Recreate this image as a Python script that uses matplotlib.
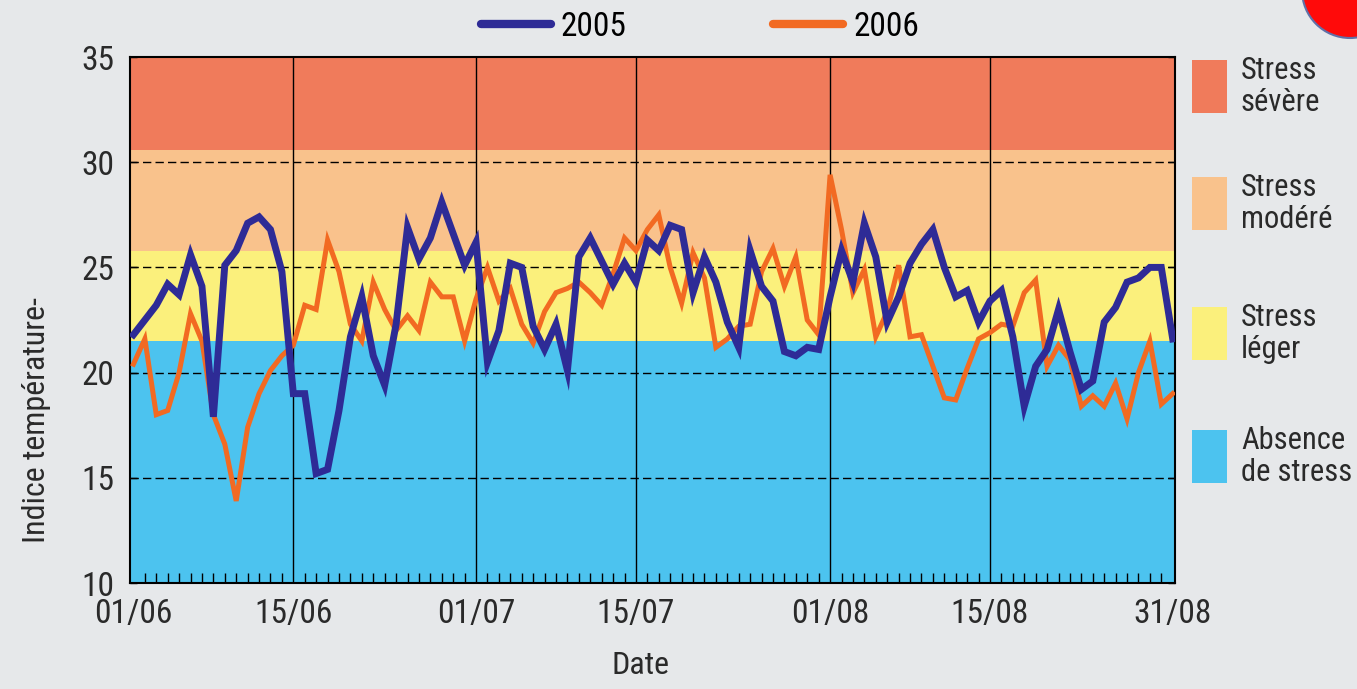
import numpy as np
import matplotlib
matplotlib.use("Agg")
import matplotlib.pyplot as plt
from matplotlib.patches import Rectangle, Ellipse

# Daily heat index values, 01/06 to 31/08
t_2005 = [21.8, 22.5, 23.2, 24.2, 23.7, 25.6, 24.1, 17.9, 25.1, 25.8,
          27.1, 27.4, 26.8, 24.8, 19.0, 19.0, 15.2, 15.4, 18.2, 21.7,
          23.6, 20.8, 19.4, 22.3, 26.9, 25.4, 26.4, 28.1, 26.6, 25.1,
          26.2, 20.5, 22.0, 25.2, 25.0, 22.2, 21.1, 22.3, 20.1, 25.5,
          26.4, 25.3, 24.2, 25.2, 24.3, 26.3, 25.8, 27.0, 26.8, 23.8,
          25.5, 24.3, 22.4, 21.2, 25.8, 24.1, 23.4, 21.0, 20.8, 21.2,
          21.1, 23.6, 25.8, 24.3, 27.1, 25.5, 22.4, 23.6, 25.2, 26.1,
          26.8, 25.0, 23.6, 23.9, 22.4, 23.4, 23.9, 21.7, 18.4, 20.3,
          21.1, 23.0, 21.0, 19.2, 19.6, 22.4, 23.1, 24.3, 24.5, 25.0,
          25.0, 21.6]
t_2006 = [20.4, 21.6, 18.0, 18.2, 20.0, 22.8, 21.5, 18.0, 16.6, 13.9,
          17.4, 19.0, 20.1, 20.8, 21.3, 23.2, 23.0, 26.3, 24.8, 22.3,
          21.5, 24.3, 23.0, 22.0, 22.7, 22.0, 24.3, 23.6, 23.6, 21.5,
          23.5, 25.0, 23.4, 24.0, 22.3, 21.4, 22.9, 23.8, 24.0, 24.3,
          23.8, 23.2, 24.7, 26.4, 25.8, 26.8, 27.5, 25.0, 23.3, 25.7,
          24.5, 21.2, 21.6, 22.2, 22.3, 24.8, 25.9, 24.1, 25.5, 22.5,
          21.8, 29.4, 26.8, 23.8, 24.9, 21.7, 22.9, 25.1, 21.7, 21.8,
          20.3, 18.8, 18.7, 20.2, 21.6, 21.9, 22.3, 22.2, 23.8, 24.4,
          20.3, 21.3, 20.6, 18.4, 18.9, 18.4, 19.5, 17.8, 20.0, 21.5,
          18.5, 19.0]
days = np.arange(len(t_2005))

# Stress zones
band_edges = [10, 21.5, 25.8, 30.6, 35]
band_colors = ["#4cc3ef", "#fbf07c", "#f9c28c", "#f07b5b"]
band_labels = ["Absence\nde stress", "Stress\nléger", "Stress\nmodéré", "Stress\nsévère"]

date_ticks = [0, 14, 30, 44, 61, 75, 91]
date_labels = ["01/06", "15/06", "01/07", "15/07", "01/08", "15/08", "31/08"]
y_ticks = [10, 15, 20, 25, 30, 35]

W, H = 1357, 689
bg = "#e6e8ea"
txt = "#2a2a2a"
plt.rcParams["font.family"] = ["Roboto Condensed", "Liberation Sans Narrow",
                               "DejaVu Sans Condensed", "Roboto", "DejaVu Sans"]

fig = plt.figure(figsize=(W / 100, H / 100), dpi=100, facecolor=bg)
ax = fig.add_axes([130 / W, 1 - 583 / H, 1045 / W, 526 / H])

for lo, hi, c in zip(band_edges[:-1], band_edges[1:], band_colors):
    ax.axhspan(lo, hi, color=c, lw=0, zorder=0)

for y in y_ticks[1:-1]:
    ax.axhline(y, color="black", lw=1.0, ls=(0, (6, 3)), zorder=1)
for d in date_ticks[1:-1]:
    ax.axvline(d, color="black", lw=1.0, zorder=1)

ax.plot(days, t_2006, color="#f26a22", lw=3.6, solid_joinstyle="miter", zorder=3, label="2006")
ax.plot(days, t_2005, color="#2e2b96", lw=5.0, solid_joinstyle="miter", zorder=4, label="2005")

ax.set_xlim(-0.3, 91.2)
ax.set_ylim(10, 35)
ax.set_xticks(date_ticks)
ax.set_xticklabels(date_labels)
ax.set_xticks(days, minor=True)
ax.set_yticks(y_ticks)
ax.tick_params(axis="x", which="major", length=0, pad=11, labelsize=24, labelcolor=txt)
ax.tick_params(axis="x", which="minor", direction="in", length=7, width=1, color="black")
ax.tick_params(axis="y", direction="in", length=5, width=1, right=True, pad=11,
               labelsize=24, labelcolor=txt, color="black")
for s in ax.spines.values():
    s.set_linewidth(1.5)
    s.set_color("black")

fig.text(640 / W, 1 - 665 / H, "Date", ha="center", va="center", fontsize=23, color=txt)
fig.text(37 / W, 1 - 420 / H, "Indice température-", rotation=90, ha="center", va="center",
         fontsize=23, color=txt)

# top legend for years
handles, labels = ax.get_legend_handles_labels()
leg = fig.legend(handles[::-1], labels[::-1], loc="center", bbox_to_anchor=(700 / W, 1 - 27 / H),
                 ncol=2, frameon=False, fontsize=24, handlelength=2.1, handletextpad=0.3,
                 columnspacing=4.4)
for ln in leg.get_lines():
    ln.set_linewidth(6)
    ln.set_solid_capstyle("round")

# zone legend on the right
sw_tops = [430, 307, 177, 60]
for top, c, lab in zip(sw_tops, band_colors, band_labels):
    fig.add_artist(Rectangle((1192 / W, 1 - (top + 53) / H), 35 / W, 53 / H,
                             transform=fig.transFigure, color=c, lw=0))
    fig.text(1241 / W, 1 - (top - 4) / H, lab, ha="left", va="top", fontsize=22,
             color=txt, linespacing=1.15)

# red marker in the corner
fig.add_artist(Ellipse((1350 / W, 1 + 10 / H), 96 / W, 96 / H, transform=fig.transFigure,
                       facecolor="#ff0a0a", edgecolor="#6070a8", lw=1.5))

fig.savefig("out.png", dpi=100, facecolor=bg)
